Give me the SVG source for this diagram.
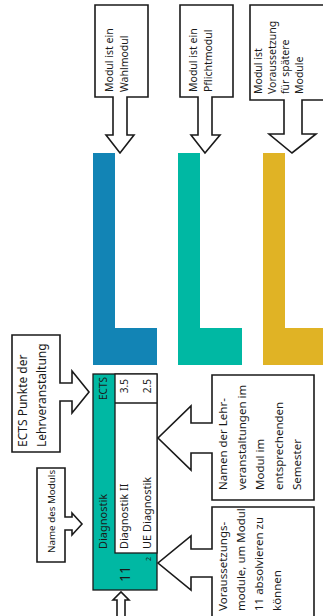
<svg xmlns="http://www.w3.org/2000/svg" width="323" height="616" viewBox="0 0 323 616">
<style>
.co{fill:#fff;stroke:#1a1a1a;stroke-width:1.6;stroke-linejoin:miter}
.t{font-family:"Noto Sans","Open Sans",sans-serif;fill:#1a1a1a}
.s{font-size:10.5px}
.m{font-size:11.5px}
.d{font-size:11px}
</style>
<rect width="323" height="616" fill="#fff"/>
<g id="bars">
<path d="M93,153H115V328H157V365H93Z" fill="#1284b5"/>
<path d="M178,153H200V328H242V365H178Z" fill="#00b8a3"/>
<path d="M263,153H285V328H330V365H263Z" fill="#e0b325"/>
</g>
<g id="connectors">
<path class="co" d="M95,5H148V97H127V135H134L120,153L106,135H113V97H95Z"/>
<path class="co" d="M180,5H233V97H212V135H220L205,153L191,135H198V97H180Z"/>
<path class="co" d="M250,5H330V100H302V134H316L292,153L269,134H284V100H250Z"/>
<path class="co" d="M12,335H60V383H72V371L89,392L72,413V401H60V452H12Z"/>
<path class="co" d="M37,468H65V517H72V513L82,524L72,535V530H65V562H37Z"/>
<path class="co" d="M212,375H314V500H212V453H191V470L158,438L191,406V423H212Z"/>
<path class="co" d="M212,507H314V625H212V577H191V590L158,563L191,536V549H212Z"/>
<path class="co" d="M117,620V600H113L121,592L129,600H125V620Z"/>
</g>
<g id="top1">
<text class="t s" transform="translate(113,92) rotate(-90)"><tspan x="0" y="0">Modul ist ein</tspan><tspan x="0" dy="14.5">Wahlmodul</tspan></text>
</g>
<g id="top2">
<text class="t s" transform="translate(197,92) rotate(-90)"><tspan x="0" y="0">Modul ist ein</tspan><tspan x="0" dy="14.5">Pflichtmodul</tspan></text>
</g>
<g id="top3">
<text class="t s" transform="translate(262,94) rotate(-90)"><tspan x="0" y="0">Modul ist</tspan><tspan x="0" dy="13.5">Voraussetzung</tspan><tspan x="0" dy="13.5">für spätere</tspan><tspan x="0" dy="13.5">Module</tspan></text>
</g>
<g id="ects-note">
<text class="t" font-size="12" transform="translate(27,447) rotate(-90)"><tspan x="0" y="0">ECTS Punkte der</tspan><tspan x="0" dy="19">Lehrveranstaltung</tspan></text>
</g>
<g id="name-note">
<text class="t" font-size="9.8" transform="translate(54.5,553) rotate(-90)">Name des Moduls</text>
</g>
<g id="lv-note">
<text class="t m" transform="translate(227,490) rotate(-90)"><tspan x="0" y="0">Namen der Lehr-</tspan><tspan x="0" dy="18.5">veranstaltungen im</tspan><tspan x="0" dy="18.5">Modul im</tspan><tspan x="0" dy="18.5">entsprechenden</tspan><tspan x="0" dy="18.5">Semester</tspan></text>
</g>
<g id="pre-note">
<text class="t m" transform="translate(227,611) rotate(-90)"><tspan x="0" y="0">Voraussetzungs-</tspan><tspan x="0" dy="18">module, um Modul</tspan><tspan x="0" dy="18">11 absolvieren zu</tspan><tspan x="0" dy="18">können</tspan></text>
</g>
<g id="module">
<rect x="93" y="374" width="64" height="216" fill="#00b8a3" stroke="#1a1a1a" stroke-width="1.3"/>
<rect x="115" y="374" width="42" height="179" fill="#fff" stroke="#1a1a1a" stroke-width="1.3"/>
<line x1="115" y1="403" x2="157" y2="403" stroke="#1a1a1a" stroke-width="1.3"/>
<text class="t d" transform="translate(107,549) rotate(-90)">Diagnostik</text>
<text class="t" font-size="10" text-anchor="end" transform="translate(107,377) rotate(-90)">ECTS</text>
<text class="t" font-size="10" text-anchor="end" transform="translate(127.5,379) rotate(-90)">3.5</text>
<text class="t" font-size="10" text-anchor="end" transform="translate(150.5,379) rotate(-90)">2.5</text>
<text class="t d" transform="translate(127.5,549) rotate(-90)">Diagnostik II</text>
<text class="t d" transform="translate(150.5,549) rotate(-90)">UE Diagnostik</text>
<text class="t" font-size="14" text-anchor="middle" transform="translate(130,574) rotate(-90)">11</text>
<text class="t" font-size="7" text-anchor="middle" transform="translate(150.5,559) rotate(-90)">2</text>
</g>
</svg>
